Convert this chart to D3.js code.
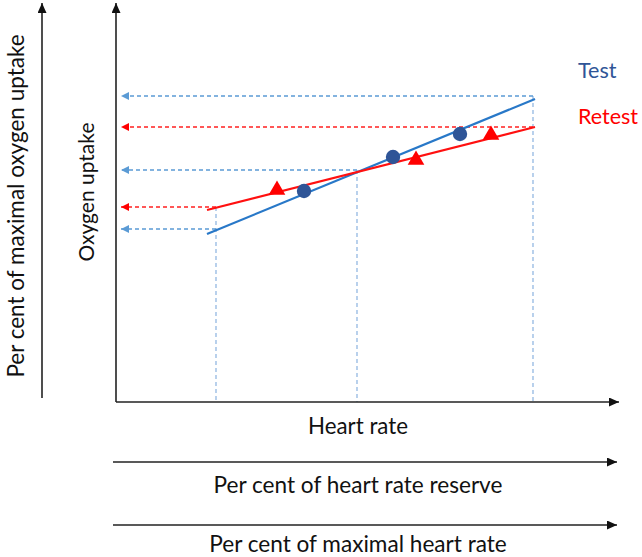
<!DOCTYPE html>
<html><head><meta charset="utf-8">
<script src="https://cdn.jsdelivr.net/npm/d3@7"></script>
<style>html,body{margin:0;padding:0;background:#fff}svg{display:block}</style>
</head><body>
<script>
// ---- data (arbitrary units) ----
const seriesNames = ["Test", "Retest"];
const testLine = [[18.2, 42], [83.8, 75.75]];
const retestLine = [[18.2, 48], [83.8, 68.75]];
const testPoints = [[37.6, 52.75], [55.4, 61.25], [68.8, 67]];
const retestPoints = [[32.2, 53], [60, 60.5], [75, 66.75]];
// horizontal projections: [y value, x end value, series]
const hGuides = [[76.5, 83.4, "Test"], [68.75, 83.4, "Retest"], [58, 48.2, "Test"], [48.75, 20, "Retest"], [43.25, 20, "Test"]];
// vertical projections: [x value, y start value]
const vGuides = [[20, 48.75], [48.2, 58], [83.4, 76.5]];
const axisLabels = ["Heart rate", "Per cent of heart rate reserve", "Per cent of maximal heart rate"];
const yLabels = ["Oxygen uptake", "Per cent of maximal oxygen uptake"];

const W = 642, H = 557;
const font = "Lato, 'Open Sans', sans-serif";
const svg = d3.select("body").append("svg").attr("width", W).attr("height", H);

const x = d3.scaleLinear().domain([0, 100]).range([116, 616]);
const y = d3.scaleLinear().domain([0, 100]).range([402, 2]);

const defs = svg.append("defs");
function arrow(id, color, len, hw) {
  defs.append("marker").attr("id", id).attr("viewBox", `0 0 ${len} ${2*hw}`)
    .attr("refX", len).attr("refY", hw).attr("markerUnits", "userSpaceOnUse")
    .attr("markerWidth", len).attr("markerHeight", 2*hw).attr("orient", "auto")
    .append("path").attr("d", `M0,0L${len},${hw}L0,${2*hw}Z`).attr("fill", color);
}
arrow("ax", "#111", 10, 4.5);
arrow("aTest", "#5B9BD5", 8, 4);
arrow("aRetest", "#FF0000", 8, 4);

const colors = {Test: "#2878C8", Retest: "#FF1010"};
const dashColors = {Test: "#5B9BD5", Retest: "#FF2020"};

// vertical guides
svg.append("g").selectAll("line").data(vGuides).join("line")
  .attr("x1", d => x(d[0])).attr("x2", d => x(d[0]))
  .attr("y1", d => y(d[1])).attr("y2", y(0))
  .attr("stroke", "#8AB2DF").attr("stroke-width", 1.2).attr("stroke-dasharray", "4,3");

// horizontal guides with arrows toward the y axis
svg.append("g").selectAll("line").data(hGuides).join("line")
  .attr("x1", d => x(d[1])).attr("x2", x(0) + 5)
  .attr("y1", d => y(d[0])).attr("y2", d => y(d[0]))
  .attr("stroke", d => dashColors[d[2]]).attr("stroke-width", 1.3).attr("stroke-dasharray", "4,3")
  .attr("marker-end", d => `url(#a${d[2]})`);

// axes
const axG = svg.append("g").attr("stroke", "#222").attr("stroke-width", 1.6).attr("fill", "none");
axG.append("line").attr("x1", x(0)).attr("y1", y(0)).attr("x2", 619).attr("y2", y(0)).attr("marker-end", "url(#ax)");
axG.append("line").attr("x1", x(0)).attr("y1", y(0)).attr("x2", x(0)).attr("y2", 3).attr("marker-end", "url(#ax)");
axG.append("line").attr("x1", 42).attr("y1", 398).attr("x2", 42).attr("y2", 3).attr("marker-end", "url(#ax)");
axG.append("line").attr("x1", 113).attr("y1", 462).attr("x2", 617).attr("y2", 462).attr("marker-end", "url(#ax)");
axG.append("line").attr("x1", 113).attr("y1", 525).attr("x2", 617).attr("y2", 525).attr("marker-end", "url(#ax)");

// regression lines
const line = d3.line().x(d => x(d[0])).y(d => y(d[1]));
svg.append("path").attr("d", line(testLine)).attr("stroke", colors.Test).attr("stroke-width", 2.2).attr("fill", "none");
svg.append("path").attr("d", line(retestLine)).attr("stroke", colors.Retest).attr("stroke-width", 2.2).attr("fill", "none");

// points
svg.append("g").selectAll("circle").data(testPoints).join("circle")
  .attr("cx", d => x(d[0])).attr("cy", d => y(d[1])).attr("r", 7.2).attr("fill", "#2F5597");
svg.append("g").selectAll("path").data(retestPoints).join("path")
  .attr("transform", d => `translate(${x(d[0])},${y(d[1])})`)
  .attr("d", d3.symbol(d3.symbolTriangle, 120)).attr("fill", "#FF0000");

// legend labels
svg.append("text").attr("x", 578).attr("y", 78).text(seriesNames[0])
  .attr("font-family", font).attr("font-size", 21.5).attr("fill", "#2F5597");
svg.append("text").attr("x", 578).attr("y", 124).text(seriesNames[1])
  .attr("font-family", font).attr("font-size", 21.5).attr("fill", "#FF0000");

// axis labels
const bl = [[434, 22.3], [493, 22.6], [552, 22.6]];
axisLabels.forEach((t, i) => {
  svg.append("text").attr("x", 358).attr("y", bl[i][0]).attr("text-anchor", "middle")
    .attr("font-family", font).attr("font-size", bl[i][1]).attr("fill", "#111").text(t);
});
svg.append("text").attr("transform", "translate(94,192) rotate(-90)").attr("text-anchor", "middle")
  .attr("font-family", font).attr("font-size", 21).attr("fill", "#111").text(yLabels[0]);
svg.append("text").attr("transform", "translate(23.5,206) rotate(-90)").attr("text-anchor", "middle")
  .attr("font-family", font).attr("font-size", 22.5).attr("fill", "#111").text(yLabels[1]);
</script>
</body></html>
